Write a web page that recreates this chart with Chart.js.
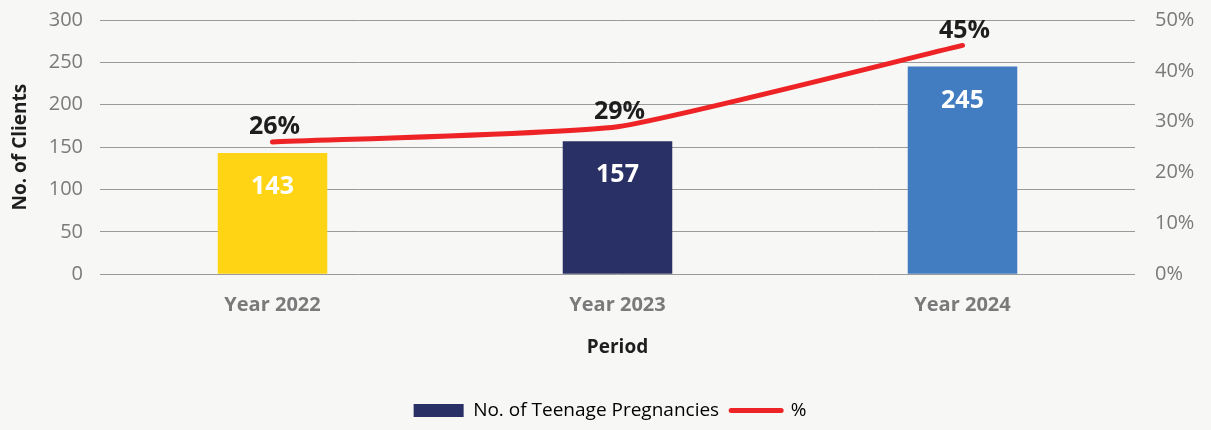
<!DOCTYPE html>
<html>
<head>
<meta charset="utf-8">
<script src="https://cdn.jsdelivr.net/npm/chart.js@4.4.1/dist/chart.umd.min.js"></script>
<style>
  html, body { margin: 0; padding: 0; background: #f7f7f6; }
  #wrap { width: 1211px; height: 430px; }
</style>
</head>
<body>
<div id="wrap"><canvas id="teenChart"></canvas></div>
<script>
// chart values
var periods = ['Year 2022', 'Year 2023', 'Year 2024'];
var pregnancies = [143, 157, 245];
var percentages = [26, 29, 45];
var barColors = ['#ffd414', '#283066', '#427dc1'];

var FONT = "'Open Sans', 'DejaVu Sans', sans-serif";

// draws the value labels on bars and line
var valueLabels = {
  id: 'valueLabels',
  afterDatasetsDraw: function(chart) {
    var ctx = chart.ctx;
    ctx.save();
    ctx.textAlign = 'center';
    ctx.textBaseline = 'middle';
    ctx.font = "bold 25px " + FONT;

    chart.getDatasetMeta(0).data.forEach(function(bar, i) {
      ctx.fillStyle = '#ffffff';
      ctx.fillText(pregnancies[i], bar.x, bar.y + 34);
    });

    chart.getDatasetMeta(1).data.forEach(function(pt, i) {
      ctx.fillStyle = '#1e1e1e';
      ctx.fillText(percentages[i] + '%', pt.x + 2, pt.y - 15);
    });
    ctx.restore();
  }
};

// tick padding would otherwise push the plot top down
function fixLeft(scale) {
  scale.width = 91;
  scale.paddingTop = 20;
  scale.paddingBottom = 0;
}
function fixRight(scale) {
  scale.width = 76;
  scale.paddingTop = 20;
  scale.paddingBottom = 0;
}

var ctx = document.getElementById('teenChart').getContext('2d');
new Chart(ctx, {
  type: 'bar',
  data: {
    labels: periods,
    datasets: [
      {
        label: 'No. of Teenage Pregnancies',
        data: pregnancies,
        backgroundColor: barColors,
        yAxisID: 'y',
        order: 2,
        barPercentage: 0.635,
        categoryPercentage: 0.5
      },
      {
        type: 'line',
        label: '%',
        data: percentages,
        borderColor: '#ee2326',
        backgroundColor: '#ee2326',
        borderWidth: 5,
        borderCapStyle: 'round',
        pointRadius: 0,
        tension: 0.15,
        yAxisID: 'y1',
        order: 1
      }
    ]
  },
  options: {
    responsive: true,
    maintainAspectRatio: false,
    animation: false,
    layout: { padding: { top: 2, right: 0, left: 9, bottom: 0 } },
    plugins: {
      tooltip: { enabled: false },
      legend: {
        position: 'bottom',
        labels: {
          color: '#7a7a7a',
          font: { family: FONT, size: 19 },
          usePointStyle: true,
          pointStyleWidth: 50,
          boxHeight: 13,
          padding: 12,
          generateLabels: function(chart) {
            return [
              { text: 'No. of Teenage Pregnancies', fillStyle: '#283066', strokeStyle: '#283066', lineWidth: 0, pointStyle: 'rect', datasetIndex: 0 },
              { text: '%', fillStyle: '#ee2326', strokeStyle: '#ee2326', lineWidth: 5, lineCap: 'round', pointStyle: 'line', datasetIndex: 1 }
            ];
          }
        }
      }
    },
    scales: {
      x: {
        grid: { display: false },
        border: { display: false },
        ticks: { color: '#7a7a7a', font: { family: FONT, size: 20, weight: 'bold' }, padding: 11 },
        title: { display: true, text: 'Period', color: '#1e1e1e', font: { family: FONT, size: 19, weight: 'bold' }, padding: { top: 8, bottom: 30 } }
      },
      y: {
        position: 'left',
        min: 0,
        max: 300,
        afterFit: fixLeft,
        ticks: { stepSize: 50, color: '#7a7a7a', font: { family: FONT, size: 20 }, padding: 17 },
        grid: { color: '#9a9a9a', lineWidth: 1, drawTicks: false },
        border: { display: false },
        title: { display: true, text: 'No. of Clients', color: '#1e1e1e', font: { family: FONT, size: 19, weight: 'bold' }, padding: { top: 0, bottom: 6 } }
      },
      y1: {
        position: 'right',
        min: 0,
        max: 50,
        afterFit: fixRight,
        ticks: { stepSize: 10, color: '#7a7a7a', font: { family: FONT, size: 20 }, padding: 20, callback: function(v) { return v + '%'; } },
        grid: { display: false, drawTicks: false },
        border: { display: false }
      }
    }
  },
  plugins: [valueLabels]
});
</script>
</body>
</html>
